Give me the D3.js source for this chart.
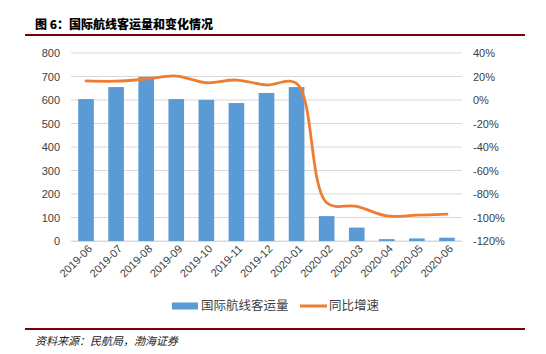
<!DOCTYPE html>
<html>
<head>
<meta charset="utf-8">
<script src="https://cdn.jsdelivr.net/npm/d3@7"></script>
<style>
  body { margin: 0; background: #fff; }
  svg { display: block; font-family: "Liberation Sans", Arial, sans-serif; }
</style>
</head>
<body>
<div id="chart"></div>
<script>
const months = ["2019-06","2019-07","2019-08","2019-09","2019-10","2019-11","2019-12",
                "2020-01","2020-02","2020-03","2020-04","2020-05","2020-06"];
const passengers = [604, 655, 699, 604, 601, 587, 630, 655, 106, 57, 8, 11, 14];
const growth = [16.2, 16.0, 17.9, 20.4, 14.7, 17.0, 12.8, 14.2, -87.5, -90.5, -98.7, -98.0, -97.2];
const leftTicks = [0, 100, 200, 300, 400, 500, 600, 700, 800];
const rightTicks = [-120, -100, -80, -60, -40, -20, 0, 20, 40];

const W = 546, H = 354;
const margin = {top: 53, right: 84, bottom: 113, left: 71};
const width = W - margin.left - margin.right;
const height = H - margin.top - margin.bottom;

const svg = d3.select("#chart").append("svg")
  .attr("width", W).attr("height", H);

// title + rules
svg.append("text")
  .attr("x", 35).attr("y", 29)
  .text("图 6：国际航线客运量和变化情况")
  .style("font-family", "'Noto Sans CJK SC', sans-serif")
  .style("font-weight", "900")
  .style("font-size", "12px")
  .style("fill", "#000");
svg.append("line").attr("x1", 25).attr("x2", 525).attr("y1", 35).attr("y2", 35)
  .attr("stroke", "#7f0000").attr("stroke-width", 2);
svg.append("line").attr("x1", 25).attr("x2", 525).attr("y1", 329).attr("y2", 329)
  .attr("stroke", "#7f0000").attr("stroke-width", 2);
svg.append("text")
  .attr("x", 35).attr("y", 345)
  .text("资料来源：民航局，渤海证券")
  .style("font-family", "'Noto Sans CJK SC', sans-serif")
  .style("font-style", "italic")
  .style("font-size", "11px")
  .style("fill", "#222");

const g = svg.append("g")
  .attr("transform", "translate(" + margin.left + "," + margin.top + ")");

const x = d3.scaleBand().domain(months).range([0, width]).paddingInner(0.48).paddingOuter(0.24);
const y = d3.scaleLinear().domain([0, 800]).range([height, 0]);
const y2 = d3.scaleLinear().domain([-120, 40]).range([height, 0]);

// grid
g.append("g")
  .selectAll("line")
  .data(leftTicks)
  .enter().append("line")
  .attr("x1", 0).attr("x2", width)
  .attr("y1", d => y(d)).attr("y2", d => y(d))
  .attr("stroke", "#d9d9d9").attr("stroke-width", 1);

// left axis
const yAxis = g.append("g")
  .call(d3.axisLeft(y).tickValues(leftTicks).tickSize(0).tickPadding(11));
yAxis.select(".domain").remove();
yAxis.selectAll("text").style("font-size", "11px").style("fill", "#404040");

// right axis
const yAxis2 = g.append("g")
  .attr("transform", "translate(" + width + ",0)")
  .call(d3.axisRight(y2).tickValues(rightTicks).tickSize(0).tickPadding(11).tickFormat(d => d + "%"));
yAxis2.select(".domain").remove();
yAxis2.selectAll("text").style("font-size", "11px").style("fill", "#404040");

// bars
g.append("g")
  .selectAll("rect")
  .data(passengers)
  .enter().append("rect")
  .attr("x", (d, i) => x(months[i]))
  .attr("y", d => y(d))
  .attr("width", x.bandwidth())
  .attr("height", d => height - y(d))
  .attr("fill", "#5b9bd5");

// x axis
const xAxis = g.append("g")
  .attr("transform", "translate(0," + height + ")")
  .call(d3.axisBottom(x).tickSize(0).tickPadding(0));
xAxis.select(".domain").attr("stroke", "#d9d9d9");
xAxis.selectAll("text")
  .attr("text-anchor", "end")
  .attr("dx", "3")
  .attr("dy", "8")
  .attr("transform", "translate(-1,5) rotate(-45)")
  .style("font-size", "11px")
  .style("fill", "#404040");

// growth line
g.append("path")
  .datum(growth)
  .attr("fill", "none")
  .attr("stroke", "#ed7d31")
  .attr("stroke-width", 2.8)
  .attr("stroke-linecap", "round")
  .attr("d", d3.line()
    .curve(d3.curveCatmullRom.alpha(0.5))
    .x((d, i) => x(months[i]) + x.bandwidth() / 2)
    .y(d => y2(d)));

// legend
const legend = svg.append("g").attr("transform", "translate(172,306)");
legend.append("rect").attr("x", 0).attr("y", -3.5).attr("width", 26).attr("height", 7).attr("fill", "#5b9bd5");
legend.append("text").attr("x", 29).attr("y", 0).attr("dy", "0.35em")
  .text("国际航线客运量")
  .style("font-family", "'Noto Sans CJK SC', sans-serif")
  .style("font-size", "12.5px").style("fill", "#404040");
legend.append("line").attr("x1", 128).attr("x2", 155).attr("y1", 0).attr("y2", 0)
  .attr("stroke", "#ed7d31").attr("stroke-width", 3);
legend.append("text").attr("x", 157).attr("y", 0).attr("dy", "0.35em")
  .text("同比增速")
  .style("font-family", "'Noto Sans CJK SC', sans-serif")
  .style("font-size", "12.5px").style("fill", "#404040");
</script>
</body>
</html>
